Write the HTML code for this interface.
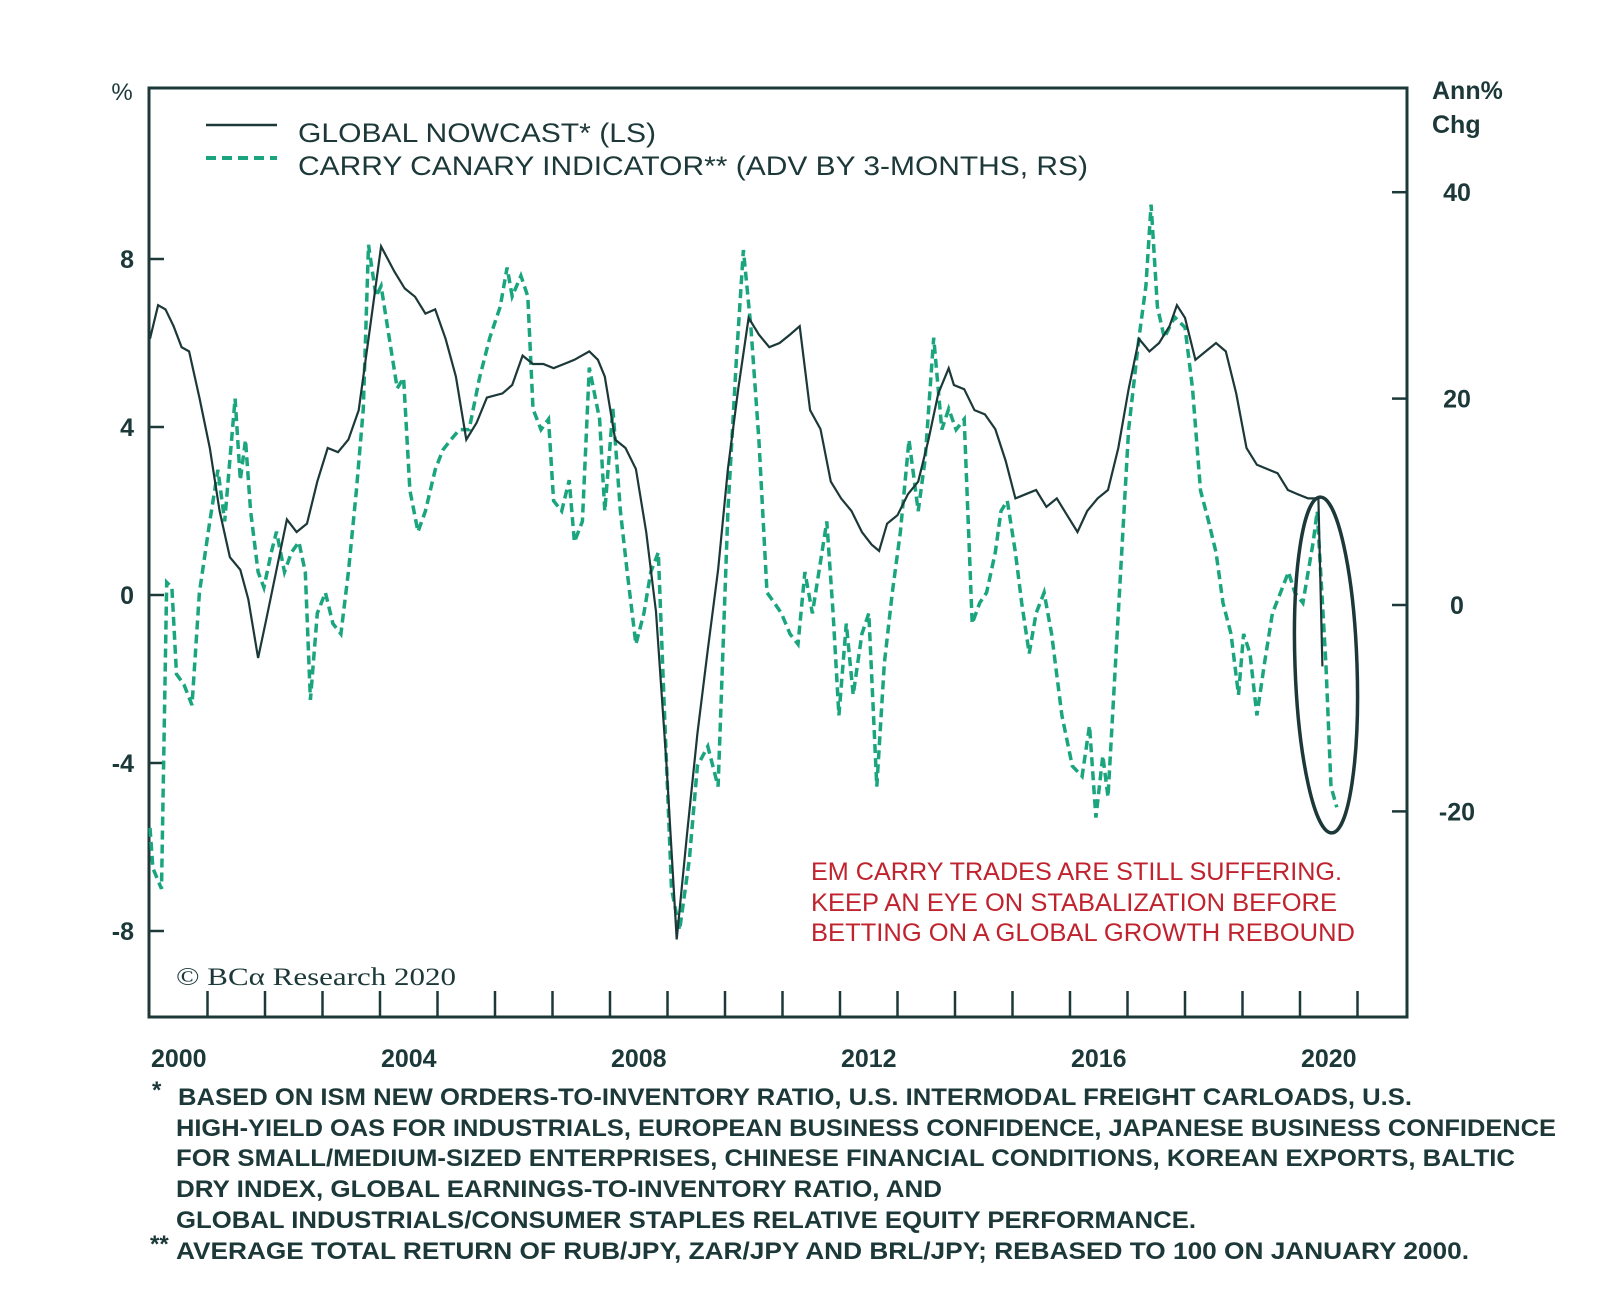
<!DOCTYPE html>
<html><head><meta charset="utf-8"><style>
html,body{margin:0;padding:0;background:#fff;}
svg{display:block;}
text{font-family:"Liberation Sans",sans-serif;fill:#1c3838;}
.cond{font-family:"Liberation Sans Narrow","Liberation Sans",sans-serif;}
</style></head><body>
<svg width="1600" height="1295" viewBox="0 0 1600 1295">
<g id="plot"></g>
</svg>
<script>
const nowYears=[2000.0,2000.14,2000.27,2000.41,2000.55,2000.68,2000.86,2001.04,2001.21,2001.39,2001.57,2001.71,2001.88,2002.02,2002.2,2002.38,2002.55,2002.73,2002.91,2003.09,2003.27,2003.45,2003.63,2003.8,2004.02,2004.25,2004.43,2004.61,2004.79,2004.96,2005.14,2005.32,2005.5,2005.68,2005.86,2006.13,2006.3,2006.48,2006.66,2006.84,2007.02,2007.2,2007.38,2007.64,2007.79,2007.91,2008.09,2008.27,2008.45,2008.63,2008.8,2008.98,2009.16,2009.34,2009.52,2009.7,2009.88,2010.05,2010.23,2010.41,2010.59,2010.77,2010.95,2011.13,2011.3,2011.48,2011.66,2011.84,2012.02,2012.2,2012.38,2012.55,2012.68,2012.82,2013.0,2013.18,2013.36,2013.54,2013.71,2013.89,2013.98,2014.16,2014.34,2014.52,2014.7,2014.88,2015.05,2015.23,2015.41,2015.59,2015.77,2015.95,2016.13,2016.3,2016.48,2016.66,2016.84,2017.02,2017.2,2017.38,2017.55,2017.73,2017.86,2018.0,2018.18,2018.36,2018.54,2018.71,2018.89,2019.07,2019.25,2019.43,2019.61,2019.79,2019.96,2020.14,2020.32,2020.39];
const nowValues=[6.1,6.9,6.8,6.4,5.9,5.8,4.7,3.5,2.0,0.9,0.6,-0.1,-1.5,-0.6,0.6,1.8,1.5,1.7,2.7,3.5,3.4,3.7,4.4,6.1,8.3,7.7,7.3,7.1,6.7,6.8,6.1,5.2,3.7,4.1,4.7,4.8,5.0,5.7,5.5,5.5,5.4,5.5,5.6,5.8,5.6,5.2,3.7,3.5,3.0,1.5,-0.4,-4.0,-8.2,-5.7,-3.3,-1.3,0.6,3.0,4.9,6.6,6.2,5.9,6.0,6.2,6.4,4.4,3.95,2.7,2.3,2.0,1.5,1.2,1.05,1.7,1.9,2.4,2.7,3.7,4.8,5.4,5.0,4.9,4.4,4.3,3.95,3.2,2.3,2.4,2.5,2.1,2.3,1.9,1.5,2.0,2.3,2.5,3.5,4.9,6.1,5.8,6.0,6.4,6.9,6.6,5.6,5.8,6.0,5.8,4.8,3.5,3.1,3.0,2.9,2.5,2.4,2.3,2.3,-1.7];
const carryYears=[2000.0,2000.05,2000.2,2000.29,2000.38,2000.46,2000.59,2000.73,2000.86,2001.04,2001.18,2001.3,2001.39,2001.48,2001.57,2001.66,2001.75,2001.88,2001.98,2002.11,2002.2,2002.34,2002.46,2002.59,2002.7,2002.79,2002.91,2003.05,2003.18,2003.32,2003.45,2003.59,2003.71,2003.8,2003.93,2004.02,2004.16,2004.3,2004.41,2004.52,2004.66,2004.79,2004.96,2005.09,2005.23,2005.38,2005.55,2005.73,2005.91,2006.09,2006.21,2006.3,2006.45,2006.57,2006.66,2006.8,2006.93,2007.02,2007.16,2007.29,2007.38,2007.52,2007.64,2007.82,2007.91,2008.05,2008.18,2008.3,2008.45,2008.59,2008.71,2008.84,2008.95,2009.07,2009.21,2009.38,2009.52,2009.7,2009.88,2010.05,2010.2,2010.32,2010.45,2010.59,2010.73,2010.86,2010.98,2011.13,2011.27,2011.39,2011.52,2011.66,2011.77,2011.88,2011.98,2012.11,2012.23,2012.38,2012.5,2012.64,2012.77,2012.91,2013.05,2013.2,2013.36,2013.48,2013.63,2013.77,2013.89,2014.02,2014.16,2014.3,2014.43,2014.55,2014.7,2014.8,2014.91,2015.05,2015.16,2015.29,2015.41,2015.55,2015.68,2015.86,2016.04,2016.21,2016.34,2016.45,2016.57,2016.66,2016.84,2017.02,2017.2,2017.32,2017.41,2017.52,2017.64,2017.82,2018.0,2018.13,2018.27,2018.41,2018.54,2018.66,2018.8,2018.93,2019.02,2019.13,2019.25,2019.38,2019.52,2019.66,2019.8,2019.91,2020.05,2020.23,2020.3,2020.45,2020.54,2020.64];
const carryValues=[-21.6,-25.5,-27.5,2.2,1.7,-6.7,-7.7,-9.7,1.2,8.1,13.1,8.1,14.1,20.0,12.1,16.0,9.1,3.2,1.7,5.1,7.1,3.2,5.1,6.1,3.2,-9.2,-0.8,1.2,-1.8,-2.8,3.2,11.1,19.0,34.9,29.9,30.9,25.9,21.0,22.0,11.1,7.1,9.1,13.1,15.0,16.0,17.0,17.0,22.0,25.9,28.9,32.7,29.9,31.9,29.9,19.0,17.0,18.0,10.1,9.1,12.1,6.1,8.1,23.0,18.0,9.1,19.0,9.1,3.2,-3.8,-0.8,3.2,5.1,-10.7,-27.5,-31.5,-24.6,-15.6,-13.7,-17.6,9.1,24.0,34.4,26.9,16.0,1.2,0.2,-0.8,-2.8,-3.8,3.2,-0.8,4.2,8.1,-0.8,-10.7,-1.8,-8.7,-2.8,-0.8,-17.6,-5.7,1.2,7.1,16.0,9.1,14.1,25.9,17.0,19.0,17.0,18.0,-1.8,0.2,1.2,5.1,9.1,10.1,5.1,0.2,-4.7,-0.8,1.2,-2.8,-10.7,-15.6,-16.6,-11.7,-20.6,-14.6,-18.6,-0.8,17.0,25.9,30.9,38.8,28.9,25.9,27.9,26.9,21.0,11.1,8.1,5.1,0.2,-2.8,-8.7,-2.8,-4.7,-10.7,-5.7,-0.8,1.2,3.2,1.2,0.2,6.1,9.1,-5.7,-17.6,-19.6];
const leftTicks=[8,4,0,-4,-8];
const rightTicks=[40,20,0,-20];
const yearLabels=[2000,2004,2008,2012,2016,2020];

const X0=150, XW=57.5, L=149, R=1407, T=88, B=1017;
function x(t){return X0+(t-2000)*XW;}
function yL(v){return 595-v*42.0;}
function yR(v){return 605-v*10.32;}

const NS='http://www.w3.org/2000/svg';
const g=document.getElementById('plot');
function mk(tag,attrs,parent){const e=document.createElementNS(NS,tag);for(const k in attrs)e.setAttribute(k,attrs[k]);(parent||g).appendChild(e);return e;}

const frame=mk('rect',{x:L,y:T,width:R-L,height:B-T,fill:'none',stroke:'#1c3838','stroke-width':3});



leftTicks.forEach(v=>{
  const tk=mk('line',{x1:L,x2:L+15,y1:yL(v),y2:yL(v),stroke:'#1c3838','stroke-width':2.5});
  
  
  const lb=mk('text',{x:134,y:yL(v)+9,'text-anchor':'end','font-size':25,'font-weight':'bold'});
  lb.textContent=v;
  
  
});
rightTicks.forEach(v=>{
  const tk=mk('line',{x1:R-15,x2:R,y1:yR(v),y2:yR(v),stroke:'#1c3838','stroke-width':2.5});
  
  
  const lb=mk('text',{x:1457,y:yR(v)+9,'text-anchor':'middle','font-size':25,'font-weight':'bold'});
  lb.textContent=v;
  
  
});
for(let yr=2001;yr<=2021;yr++){
  const tk=mk('line',{x1:x(yr),x2:x(yr),y1:B,y2:B-26,stroke:'#1c3838','stroke-width':2.5});
  
  
}
yearLabels.forEach(yr=>{
  const lb=mk('text',{x:x(yr+0.5),y:1067,'text-anchor':'middle','font-size':25,'font-weight':'bold'});
  lb.textContent=yr;
  
  
});

const cp=carryYears.map((t,i)=>x(t).toFixed(1)+','+yR(carryValues[i]).toFixed(1)).join(' ');
const carry=mk('polyline',{points:cp,fill:'none',stroke:'#1aa57e','stroke-width':3.5,'stroke-dasharray':'9,5'});


const np=nowYears.map((t,i)=>x(t).toFixed(1)+','+yL(nowValues[i]).toFixed(1)).join(' ');
const now=mk('polyline',{points:np,fill:'none',stroke:'#1c3838','stroke-width':2.2});



const ell=mk('ellipse',{cx:1326,cy:665,rx:31,ry:168,fill:'none',stroke:'#1c3838','stroke-width':3.5,transform:'rotate(-2 1326 665)'});


</script>
<svg width="1600" height="1295" style="position:absolute;left:0;top:0">
<text x="122" y="100" font-size="24" text-anchor="middle">%</text>
<text x="1432" y="99" font-size="25" font-weight="bold">Ann%</text>
<text x="1432" y="133" font-size="25" font-weight="bold">Chg</text>
<line x1="206" y1="125" x2="277" y2="125" stroke="#1c3838" stroke-width="2.5"/>
<text x="298" y="142" font-size="27" textLength="358" lengthAdjust="spacingAndGlyphs">GLOBAL NOWCAST* (LS)</text>
<line x1="206" y1="158" x2="277" y2="158" stroke="#1aa57e" stroke-width="4" stroke-dasharray="10,6"/>
<text x="298" y="175" font-size="27" textLength="790" lengthAdjust="spacingAndGlyphs">CARRY CANARY INDICATOR** (ADV BY 3-MONTHS, RS)</text>
<text x="811" y="880" class="cond" font-size="25" style="fill:#c0232e" textLength="531" lengthAdjust="spacingAndGlyphs">EM CARRY TRADES ARE STILL SUFFERING.</text>
<text x="811" y="911" class="cond" font-size="25" style="fill:#c0232e" textLength="526" lengthAdjust="spacingAndGlyphs">KEEP AN EYE ON STABALIZATION BEFORE</text>
<text x="811" y="941" class="cond" font-size="25" style="fill:#c0232e" textLength="544" lengthAdjust="spacingAndGlyphs">BETTING ON A GLOBAL GROWTH REBOUND</text>
<text x="176" y="985" font-size="25" textLength="280" lengthAdjust="spacingAndGlyphs" style="font-family:'Liberation Serif',serif">© BCα Research 2020</text>
<g class="cond" font-size="24" font-weight="bold">
<text x="152" y="1098">*</text>
<text x="178" y="1105" textLength="1234" lengthAdjust="spacingAndGlyphs">BASED ON ISM NEW ORDERS-TO-INVENTORY RATIO, U.S. INTERMODAL FREIGHT CARLOADS, U.S.</text>
<text x="176" y="1136" textLength="1380" lengthAdjust="spacingAndGlyphs">HIGH-YIELD OAS FOR INDUSTRIALS, EUROPEAN BUSINESS CONFIDENCE, JAPANESE BUSINESS CONFIDENCE</text>
<text x="176" y="1166" textLength="1339" lengthAdjust="spacingAndGlyphs">FOR SMALL/MEDIUM-SIZED ENTERPRISES, CHINESE FINANCIAL CONDITIONS, KOREAN EXPORTS, BALTIC</text>
<text x="176" y="1197" textLength="766" lengthAdjust="spacingAndGlyphs">DRY INDEX, GLOBAL EARNINGS-TO-INVENTORY RATIO, AND</text>
<text x="176" y="1228" textLength="1020" lengthAdjust="spacingAndGlyphs">GLOBAL INDUSTRIALS/CONSUMER STAPLES RELATIVE EQUITY PERFORMANCE.</text>
<text x="150" y="1252">**</text>
<text x="176" y="1259" textLength="1293" lengthAdjust="spacingAndGlyphs">AVERAGE TOTAL RETURN OF RUB/JPY, ZAR/JPY AND BRL/JPY; REBASED TO 100 ON JANUARY 2000.</text>
</g>
</svg>
</body></html>
